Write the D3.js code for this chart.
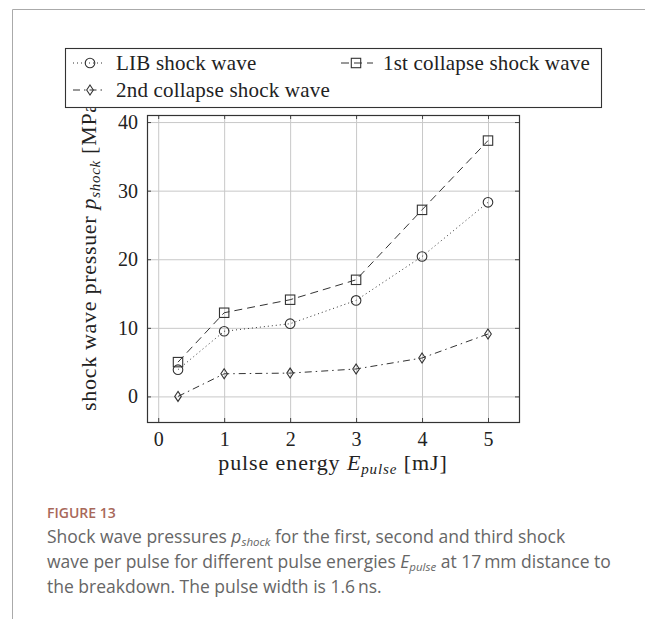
<!DOCTYPE html>
<html>
<head>
<meta charset="utf-8">
<script src="https://cdn.jsdelivr.net/npm/d3@7"></script>
<style>
  body { margin: 0; background: #fff; }
  svg { display: block; }
  .cm { font-family: "Liberation Serif", "DejaVu Serif", serif; fill: #222; }
  .cap { font-family: "Open Sans", "Lato", sans-serif; fill: #666; }
</style>
</head>
<body>
<div id="chart"></div>
<script>
// values
var energy = [0.3, 1, 2, 3, 4, 5];
var libShock = [3.9, 9.5, 10.6, 14.0, 20.4, 28.3];
var collapse1 = [5.0, 12.2, 14.1, 17.0, 27.2, 37.3];
var collapse2 = [0.0, 3.3, 3.4, 4.0, 5.6, 9.1];
var xTicks = [0, 1, 2, 3, 4, 5];
var yTicks = [0, 10, 20, 30, 40];

var W = 645, H = 619;
var plot = {left: 147, right: 519, top: 115, bottom: 422};

var svg = d3.select("#chart").append("svg")
  .attr("width", W)
  .attr("height", H);

// outer frame of the figure panel
svg.append("path")
  .attr("d", "M12.5," + H + "V9.5H" + W)
  .attr("fill", "none")
  .attr("stroke", "#aaa")
  .attr("stroke-width", 1);

// scales, enlarged like pgfplots (10% of the data range)
var x = d3.scaleLinear()
  .domain([0.3 - 0.47, 5 + 0.47])
  .range([plot.left, plot.right]);
var y = d3.scaleLinear()
  .domain([-3.73, 41.03])
  .range([plot.bottom, plot.top]);

var ph = plot.bottom - plot.top, pw = plot.right - plot.left;

// grid
svg.append("g")
  .attr("transform", "translate(0," + plot.bottom + ")")
  .call(d3.axisBottom(x).tickValues(xTicks).tickSize(-ph).tickFormat(""))
  .call(function(g){ g.select(".domain").remove(); })
  .selectAll("line").attr("stroke", "#c8c8c8");
svg.append("g")
  .attr("transform", "translate(" + plot.left + ",0)")
  .call(d3.axisLeft(y).tickValues(yTicks).tickSize(-pw).tickFormat(""))
  .call(function(g){ g.select(".domain").remove(); })
  .selectAll("line").attr("stroke", "#c8c8c8");

// axes with inward ticks
var fmt = d3.format("d");
var xAxis = svg.append("g")
  .attr("transform", "translate(0," + plot.bottom + ")")
  .call(d3.axisBottom(x).tickValues(xTicks).tickSize(-4).tickPadding(10).tickFormat(fmt));
var yAxis = svg.append("g")
  .attr("transform", "translate(" + plot.left + ",0)")
  .call(d3.axisLeft(y).tickValues(yTicks).tickSize(-4).tickPadding(9).tickFormat(fmt));
var topAxis = svg.append("g")
  .attr("transform", "translate(0," + plot.top + ")")
  .call(d3.axisTop(x).tickValues(xTicks).tickSize(-4).tickFormat(""));
var rightAxis = svg.append("g")
  .attr("transform", "translate(" + plot.right + ",0)")
  .call(d3.axisRight(y).tickValues(yTicks).tickSize(-4).tickFormat(""));

[xAxis, yAxis, topAxis, rightAxis].forEach(function(a){
  a.select(".domain").remove();
  a.selectAll(".tick line").attr("stroke", "#444");
});

xAxis.selectAll("text").attr("class", "cm").attr("font-size", 20).attr("fill", "#222");
yAxis.selectAll("text").attr("class", "cm").attr("font-size", 20).attr("fill", "#222");

// axis box
svg.append("rect")
  .attr("x", plot.left + 0.5).attr("y", plot.top + 0.5)
  .attr("width", pw).attr("height", ph)
  .attr("fill", "none").attr("stroke", "#333").attr("stroke-width", 1.2);

// series
var series = [
  {name: "LIB shock wave", values: libShock, dash: "1,3", mark: "circle"},
  {name: "1st collapse shock wave", values: collapse1, dash: "8,5", mark: "square"},
  {name: "2nd collapse shock wave", values: collapse2, dash: "7,4,1.5,4", mark: "diamond"}
];

var line = d3.line()
  .x(function(d){ return x(d[0]); })
  .y(function(d){ return y(d[1]); });

function drawMark(g, kind, cx, cy) {
  if (kind === "circle") {
    g.append("circle").attr("cx", cx).attr("cy", cy).attr("r", 4.8);
  } else if (kind === "square") {
    g.append("rect").attr("x", cx - 4.7).attr("y", cy - 4.7).attr("width", 9.4).attr("height", 9.4);
  } else {
    g.append("path").attr("d", "M" + cx + "," + (cy - 5) + "L" + (cx + 3.3) + "," + cy + "L" + cx + "," + (cy + 5) + "L" + (cx - 3.3) + "," + cy + "Z");
  }
}

series.forEach(function(s){
  var pts = energy.map(function(e, i){ return [e, s.values[i]]; });
  svg.append("path")
    .datum(pts)
    .attr("d", line)
    .attr("fill", "none")
    .attr("stroke", "#333")
    .attr("stroke-width", 1)
    .attr("stroke-dasharray", s.dash);
  var mg = svg.append("g").attr("fill", "none").attr("stroke", "#333").attr("stroke-width", 1.1);
  pts.forEach(function(p){ drawMark(mg, s.mark, x(p[0]), y(p[1])); });
});

// x label
var xl = svg.append("text").attr("class", "cm")
  .attr("x", (plot.left + plot.right) / 2).attr("y", 470)
  .attr("text-anchor", "middle").attr("font-size", 22)
  .attr("letter-spacing", 0.9);
xl.append("tspan").text("pulse energy ");
xl.append("tspan").attr("font-style", "italic").text("E");
xl.append("tspan").attr("font-style", "italic").attr("font-size", 15).attr("dy", 4).text("pulse");
xl.append("tspan").attr("dy", -4).text(" [mJ]");

// y label
var yl = svg.append("text").attr("class", "cm")
  .attr("transform", "translate(96,411) rotate(-90)")
  .attr("text-anchor", "start").attr("font-size", 22)
  .attr("letter-spacing", 0.7);
yl.append("tspan").text("shock wave pressuer ");
yl.append("tspan").attr("font-style", "italic").text("p");
yl.append("tspan").attr("font-style", "italic").attr("font-size", 15).attr("dy", 4).text("shock");
yl.append("tspan").attr("dy", -4).text(" [MPa]");

// legend (drawn on top, white fill)
var lg = svg.append("g");
lg.append("rect")
  .attr("x", 65.5).attr("y", 48.5).attr("width", 536).attr("height", 59)
  .attr("fill", "#fff").attr("stroke", "#333").attr("stroke-width", 1.1);
var legPos = [
  {sx: 73, mx: 90, tx: 116, ty: 63},
  {sx: 341, mx: 356, tx: 383, ty: 63},
  {sx: 73, mx: 90, tx: 116, ty: 90}
];
series.forEach(function(s, i){
  var p = legPos[i];
  lg.append("line")
    .attr("x1", p.sx).attr("x2", p.sx + 32).attr("y1", p.ty).attr("y2", p.ty)
    .attr("stroke", "#333").attr("stroke-width", 1).attr("stroke-dasharray", s.dash);
  var mg = lg.append("g").attr("fill", "none").attr("stroke", "#333").attr("stroke-width", 1.1);
  drawMark(mg, s.mark, p.mx, p.ty);
  lg.append("text").attr("class", "cm")
    .attr("x", p.tx).attr("y", p.ty + 7)
    .attr("font-size", 21).attr("letter-spacing", 0.2)
    .text(s.name);
});

// caption
svg.append("text")
  .attr("x", 47).attr("y", 518)
  .attr("font-family", "'Open Sans', sans-serif")
  .attr("font-size", 14).attr("font-weight", 600)
  .attr("fill", "#a8685a")
  .text("FIGURE 13");

var capLines = [
  [["Shock wave pressures ", 0], ["p", 1], ["shock", 2], [" for the first, second and third shock", 0]],
  [["wave per pulse for different pulse energies ", 0], ["E", 1], ["pulse", 2], [" at 17\u2009mm distance to", 0]],
  [["the breakdown. The pulse width is 1.6\u2009ns.", 0]]
];
capLines.forEach(function(parts, i){
  var t = svg.append("text").attr("class", "cap")
    .attr("x", 47).attr("y", 543 + i * 25)
    .attr("font-size", 17.5);
  parts.forEach(function(p, j){
    var ts = t.append("tspan").text(p[0]);
    if (p[1] === 1) ts.attr("font-style", "italic");
    if (p[1] === 2) ts.attr("font-style", "italic").attr("font-size", 11.5).attr("dy", 3);
    if (p[1] === 0 && j > 0 && parts[j - 1][1] === 2) ts.attr("dy", -3);
  });
});
</script>
</body>
</html>
